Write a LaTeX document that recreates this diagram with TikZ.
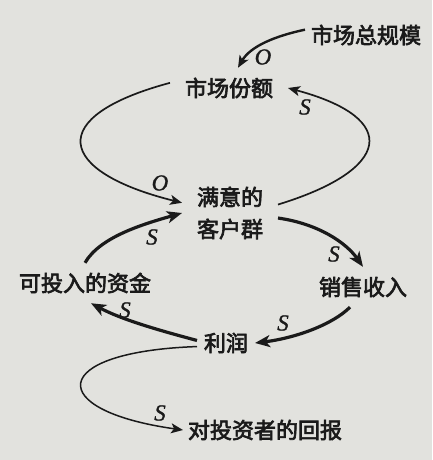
\documentclass[tikz,border=0pt]{standalone}
\usepackage{fontspec}
\newfontfamily\cjk{Noto Sans CJK SC}[FakeBold=3]
\newfontfamily\signfont{Liberation Serif}[FakeBold=1]
\usepackage{xcolor}
\usetikzlibrary{arrows.meta}
\definecolor{paper}{RGB}{226,226,222}
\definecolor{ink}{RGB}{26,26,26}
\tikzset{
	var/.style={
			font=\cjk\fontsize{22}{32}\selectfont, text=ink, align=center,
			inner sep=2pt, outer xsep=13pt, outer ysep=8pt
		},
	link/.style={draw=ink, line width=3.2pt, -{Stealth[length=15pt,width=12pt,inset=4pt]}},
	thinlink/.style={draw=ink, line width=1.7pt, -{Stealth[length=12pt,width=10pt,inset=3pt]}},
	sign/.style={font=\signfont\itshape\fontsize{23}{23}\selectfont, text=ink, inner sep=0pt}
}

\begin{document}
\begin{tikzpicture}[x=1pt,y=1pt]
	\fill[paper] (0,0) rectangle (432,-460);
	\useasboundingbox (0,0) rectangle (432,-460);

	% Variables
	\node[var, outer xsep=4pt] (total) at (366,-35) {市场总规模};
	\node[var] (share) at (229,-88) {市场份额};
	\node[var] (customers) at (230,-213) {满意的\\客户群};
	\node[var] (funds) at (85,-283) {可投入的资金};
	\node[var] (revenue) at (363,-287) {销售收入};
	\node[var, outer xsep=5pt] (profit) at (226,-343) {利润};
	\node[var, outer xsep=3pt] (returns) at (265,-430) {对投资者的回报};

	% Market loop
	\draw[thinlink, line width=2.4pt] (total.175) .. controls +(192:30) and +(60:25) .. ([xshift=9pt]share.north);
	\draw[thinlink] (share.175) .. controls +(195:130) and +(166:130) .. (customers.168);
	\draw[thinlink] (customers.10) .. controls +(17:118) and +(-15:118) .. (share.east);

	% Money loop
	\draw[link] (funds.north) .. controls +(60:30) and +(196:40) .. (customers.west);
	\draw[link] (customers.-6) .. controls +(-8:40) and +(125:30) .. (revenue.north);
	\draw[link] ([xshift=-13pt]revenue.south) .. controls +(-135:25) and +(7:40) .. (profit.east);
	\draw[link] (profit.175) .. controls +(165:40) and +(-28:35) .. ([xshift=6pt]funds.south);
	\draw[thinlink, line width=1.5pt] (profit.187) .. controls +(182:150) and +(172:140) .. (returns.west);

	% Signs
	\node[sign] (o1) at (263,-57) {O};
	\node[sign] (o2) at (160,-183) {O};
	\node[sign] (s1) at (305,-107) {S};
	\node[sign] (s2) at (152,-237) {S};
	\node[sign] (s3) at (334,-254) {S};
	\node[sign] (s4) at (283,-323) {S};
	\node[sign] (s5) at (125,-310) {S};
	\node[sign] (s6) at (160,-413) {S};
\end{tikzpicture}
\end{document}
